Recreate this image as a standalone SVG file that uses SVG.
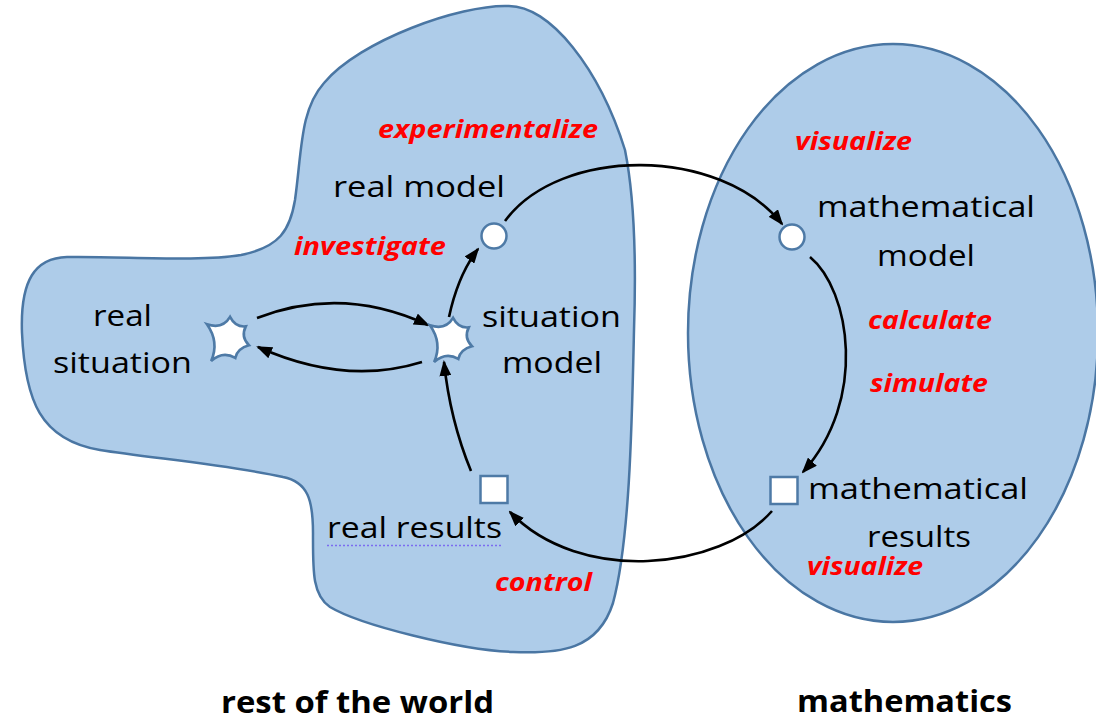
<svg xmlns="http://www.w3.org/2000/svg" width="1096" height="720" viewBox="0 0 1096 720">
<style>
.region{fill:#aecce9;stroke:#4a76a3;stroke-width:2.5}
.node{fill:#ffffff;stroke:#4e7aa6;stroke-width:2.5}
.conn{fill:none;stroke:#000;stroke-width:2.6;marker-end:url(#arrow)}
.lbl{font-family:"Open Sans","Liberation Sans",sans-serif;font-size:29px;fill:#000}
.act{font-family:"Open Sans","Liberation Sans",sans-serif;font-size:25px;font-weight:bold;font-style:italic;fill:#ff0000}
.title{font-family:"Open Sans","Liberation Sans",sans-serif;font-size:30px;font-weight:bold;fill:#000}
</style>
<defs>
<marker id="arrow" viewBox="0 0 16 12" refX="14" refY="6" markerWidth="16" markerHeight="12" markerUnits="userSpaceOnUse" orient="auto">
<path d="M0,0 L16,6 L0,12 Z" fill="#000"/>
</marker>
<path id="star" d="M-21,-15 Q-6,-10 1,-22 Q6,-12 16,-13 Q11,-3 19,5 Q8,8 6,17 Q-6,10 -17,20 Q-9,2 -21,-15 Z"/>
</defs>
<rect width="1096" height="720" fill="#ffffff"/>
<g id="rest-of-the-world">
<path class="region" d="M507,6 C550,4 600,70 625,150 C635,200 636,270 634,330 C632,420 630,540 613,603 C598,650 560,654 513,652 C460,650 360,625 330,607 C312,595 313,570 313,533 C313,500 308,482 283,477 C230,465 150,458 100,450 C40,440 25,400 22,333 C20,280 35,258 67,257 C120,256 200,262 241,255 C280,247 290,230 295,200 C302,150 300,110 324,83 C360,40 460,5 507,6 Z"/>
<text class="title" x="221" y="713" textLength="273" lengthAdjust="spacingAndGlyphs">rest of the world</text>
</g>
<g id="mathematics">
<ellipse class="region" cx="893" cy="333" rx="205" ry="289"/>
<text class="title" x="797" y="712" textLength="215" lengthAdjust="spacingAndGlyphs">mathematics</text>
</g>
<g id="connectors">
<path class="conn" d="M257,318 Q342,285 428,325"/>
<path class="conn" d="M422,362 Q345,386 258,347"/>
<path class="conn" d="M449,317 Q458,275 478,249"/>
<path class="conn" d="M505,221 C560,146 720,146 782,224"/>
<path class="conn" d="M810,257 C850,290 868,400 803,472"/>
<path class="conn" d="M772,511 C720,570 580,585 510,512"/>
<path class="conn" d="M471,471 Q450,420 444,362"/>
</g>
<g id="actions">
<text class="act" x="378" y="138" textLength="220" lengthAdjust="spacingAndGlyphs">experimentalize</text>
<text class="act" x="294" y="255" textLength="152" lengthAdjust="spacingAndGlyphs">investigate</text>
<text class="act" x="495" y="591" textLength="97" lengthAdjust="spacingAndGlyphs">control</text>
<text class="act" x="795" y="150" textLength="117" lengthAdjust="spacingAndGlyphs">visualize</text>
<text class="act" x="868" y="329" textLength="124" lengthAdjust="spacingAndGlyphs">calculate</text>
<text class="act" x="870" y="392" textLength="118" lengthAdjust="spacingAndGlyphs">simulate</text>
<text class="act" x="807" y="575" textLength="116" lengthAdjust="spacingAndGlyphs">visualize</text>
</g>
<g id="real-situation">
<use href="#star" class="node" transform="translate(229,340) scale(1.05)"/>
<text class="lbl" x="93" y="326" textLength="59" lengthAdjust="spacingAndGlyphs">real</text>
<text class="lbl" x="53" y="373" textLength="139" lengthAdjust="spacingAndGlyphs">situation</text>
</g>
<g id="situation-model">
<use href="#star" class="node" transform="translate(452,341) scale(1.05)"/>
<text class="lbl" x="482" y="327" textLength="139" lengthAdjust="spacingAndGlyphs">situation</text>
<text class="lbl" x="502" y="373" textLength="100" lengthAdjust="spacingAndGlyphs">model</text>
</g>
<g id="real-model">
<circle class="node" cx="494" cy="236" r="12.5"/>
<text class="lbl" x="333" y="197" textLength="172" lengthAdjust="spacingAndGlyphs">real model</text>
</g>
<g id="mathematical-model">
<circle class="node" cx="792" cy="237" r="12.5"/>
<text class="lbl" x="817" y="217" textLength="218" lengthAdjust="spacingAndGlyphs">mathematical</text>
<text class="lbl" x="877" y="266" textLength="98" lengthAdjust="spacingAndGlyphs">model</text>
</g>
<g id="mathematical-results">
<rect class="node" x="770.5" y="477" width="27" height="27"/>
<text class="lbl" x="808" y="499" textLength="220" lengthAdjust="spacingAndGlyphs">mathematical</text>
<text class="lbl" x="867" y="547" textLength="104" lengthAdjust="spacingAndGlyphs">results</text>
</g>
<g id="real-results">
<rect class="node" x="480.5" y="476" width="27" height="27"/>
<text class="lbl" x="327" y="538" textLength="175" lengthAdjust="spacingAndGlyphs">real results</text>
<line x1="327" y1="545.5" x2="503" y2="545.5" stroke="#7b6cf0" stroke-width="1.5" stroke-dasharray="2,2"/>
</g>
</svg>
